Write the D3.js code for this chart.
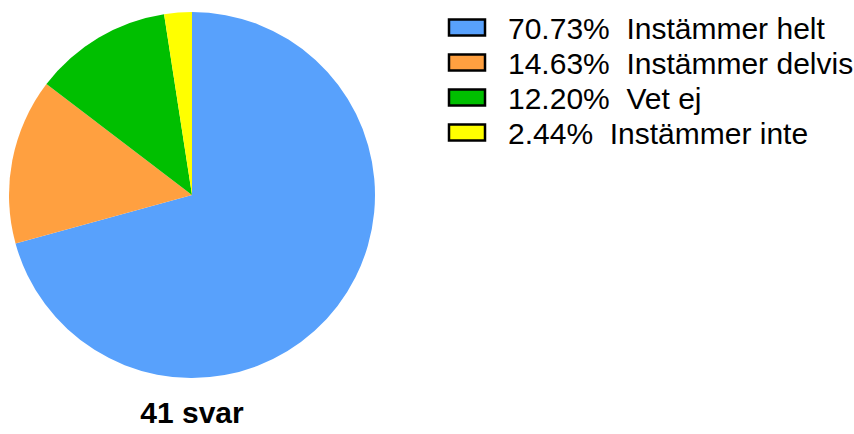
<!DOCTYPE html>
<html>
<head>
<meta charset="utf-8">
<script src="https://cdn.jsdelivr.net/npm/d3@7"></script>
<style>
  body { margin: 0; background: #fff; }
  text { font-family: "Liberation Sans", Arial, sans-serif; }
</style>
</head>
<body>
<script>
var categories = ["Instämmer helt", "Instämmer delvis", "Vet ej", "Instämmer inte"];
var counts = [29, 6, 5, 1];
var percentLabels = ["70.73%", "14.63%", "12.20%", "2.44%"];
var colors = ["#58a1fc", "#ffa040", "#00bf00", "#ffff00"];
var totalLabel = "41 svar";

var width = 854, height = 434;
var cx = 192, cy = 195, radius = 183;

var svg = d3.select("body").append("svg")
    .attr("width", width)
    .attr("height", height);

var pie = d3.pie().sort(null).value(function(d) { return d; });
var arc = d3.arc().innerRadius(0).outerRadius(radius);

svg.append("g")
    .attr("transform", "translate(" + cx + "," + cy + ")")
    .selectAll("path")
    .data(pie(counts))
    .enter().append("path")
    .attr("d", arc)
    .attr("fill", function(d, i) { return colors[i]; });

svg.append("text")
    .attr("x", cx)
    .attr("y", 423)
    .attr("text-anchor", "middle")
    .style("font-size", "30px")
    .style("font-weight", "bold")
    .text(totalLabel);

var row = d3.scaleBand().domain(d3.range(categories.length)).range([10, 150]);

var legend = svg.append("g").selectAll("g")
    .data(categories)
    .enter().append("g")
    .attr("transform", function(d, i) { return "translate(0," + (row(i) + row.bandwidth() / 2) + ")"; });

legend.append("rect")
    .attr("x", 449)
    .attr("y", -8)
    .attr("width", 36)
    .attr("height", 16)
    .attr("fill", function(d, i) { return colors[i]; })
    .attr("stroke", "#000")
    .attr("stroke-width", 2.5);

legend.append("text")
    .attr("x", 508)
    .attr("y", 11)
    .style("font-size", "30px")
    .style("white-space", "pre")
    .text(function(d, i) { return percentLabels[i] + "  " + d; });
</script>
</body>
</html>
